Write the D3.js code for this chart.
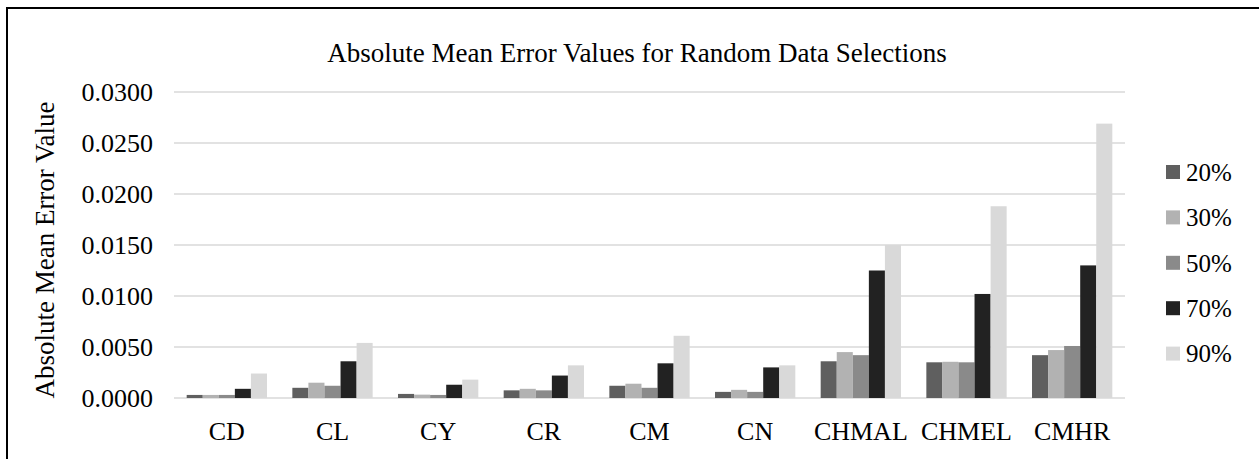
<!DOCTYPE html>
<meta charset="utf-8">
<script src="https://d3js.org/d3.v7.min.js"></script>
<style>
  body { margin: 0; background: #fff; }
  svg text { font-family: "Liberation Serif", "DejaVu Serif", serif; fill: #000; }
</style>
<div id="chart"></div>
<script>

// chart data
var categories = ["CD", "CL", "CY", "CR", "CM", "CN", "CHMAL", "CHMEL", "CMHR"];
var seriesNames = ["20%", "30%", "50%", "70%", "90%"];
var s20 = [0.0003, 0.0010, 0.0004, 0.00075, 0.0012, 0.0006, 0.0036, 0.0035, 0.0042];
var s30 = [0.0003, 0.0015, 0.00033, 0.0009, 0.0014, 0.0008, 0.0045, 0.00355, 0.0047];
var s50 = [0.0003, 0.0012, 0.0003, 0.00075, 0.0010, 0.0006, 0.0042, 0.0035, 0.0051];
var s70 = [0.0009, 0.0036, 0.0013, 0.0022, 0.0034, 0.0030, 0.0125, 0.0102, 0.0130];
var s90 = [0.0024, 0.0054, 0.0018, 0.0032, 0.0061, 0.0032, 0.0150, 0.0188, 0.0269];
var yTicks = [0, 0.005, 0.01, 0.015, 0.02, 0.025, 0.03];
var colors = ["#5f5f5f", "#b2b2b2", "#8a8a8a", "#222222", "#d9d9d9"];

var allSeries = [s20, s30, s50, s70, s90];

var width = 1259, height = 459;
var margin = {top: 92, right: 134, bottom: 61, left: 174};
var serif = "'Liberation Serif', 'DejaVu Serif', serif";

var svg = d3.select("#chart")
  .append("svg")
    .attr("width", width)
    .attr("height", height)
    .attr("font-family", serif);

// outer frame (only top and left edges show)
svg.append("rect")
  .attr("x", 7).attr("y", 8)
  .attr("width", width + 20).attr("height", height + 20)
  .attr("fill", "none")
  .attr("stroke", "#000")
  .attr("stroke-width", 2);

var x0 = d3.scaleBand()
  .domain(categories)
  .range([margin.left, width - margin.right])
  .paddingInner(0.24)
  .paddingOuter(0.12);

var x1 = d3.scaleBand()
  .domain(seriesNames)
  .range([0, x0.bandwidth()]);

var y = d3.scaleLinear()
  .domain([0, 0.03])
  .range([height - margin.bottom, margin.top]);

// gridlines
svg.append("g")
  .selectAll("line")
  .data(yTicks)
  .enter()
  .append("line")
    .attr("x1", margin.left)
    .attr("x2", width - margin.right)
    .attr("y1", function(d) { return y(d); })
    .attr("y2", function(d) { return y(d); })
    .attr("stroke", "#d9d9d9")
    .attr("stroke-width", 1.5);

// y tick labels
svg.append("g")
  .selectAll("text")
  .data(yTicks)
  .enter()
  .append("text")
    .attr("x", margin.left - 21)
    .attr("y", function(d) { return y(d); })
    .attr("dy", "0.35em")
    .attr("text-anchor", "end")
    .style("font-size", "26px")
    .text(function(d) { return d3.format(".4f")(d); });

// bars
var groups = svg.append("g")
  .selectAll("g")
  .data(categories)
  .enter()
  .append("g")
    .attr("transform", function(d) { return "translate(" + x0(d) + ",0)"; });

groups.selectAll("rect")
  .data(function(d, i) {
    return seriesNames.map(function(s, j) { return {key: s, value: allSeries[j][i], idx: j}; });
  })
  .enter()
  .append("rect")
    .attr("x", function(d) { return x1(d.key); })
    .attr("width", x1.bandwidth())
    .attr("y", function(d) { return y(d.value); })
    .attr("height", function(d) { return y(0) - y(d.value); })
    .attr("fill", function(d) { return colors[d.idx]; });

// x category labels
svg.append("g")
  .selectAll("text")
  .data(categories)
  .enter()
  .append("text")
    .attr("x", function(d) { return x0(d) + x0.bandwidth() / 2; })
    .attr("y", 440)
    .attr("text-anchor", "middle")
    .style("font-size", "26px")
    .text(function(d) { return d; });

// title
svg.append("text")
  .attr("x", 637)
  .attr("y", 62)
  .attr("text-anchor", "middle")
  .style("font-size", "27px")
  .text("Absolute Mean Error Values for Random Data Selections");

// y axis title
svg.append("text")
  .attr("transform", "translate(54," + 250 + ") rotate(-90)")
  .attr("text-anchor", "middle")
  .style("font-size", "27px")
  .text("Absolute Mean Error Value");

// legend
var legend = svg.append("g")
  .selectAll("g")
  .data(seriesNames)
  .enter()
  .append("g")
    .attr("transform", function(d, i) { return "translate(1166," + (172 + i * 45.4) + ")"; });

legend.append("rect")
  .attr("x", 0).attr("y", -7)
  .attr("width", 14).attr("height", 14)
  .attr("fill", function(d, i) { return colors[i]; });

legend.append("text")
  .attr("x", 20)
  .attr("dy", "0.35em")
  .style("font-size", "25px")
  .text(function(d) { return d; });

</script>
